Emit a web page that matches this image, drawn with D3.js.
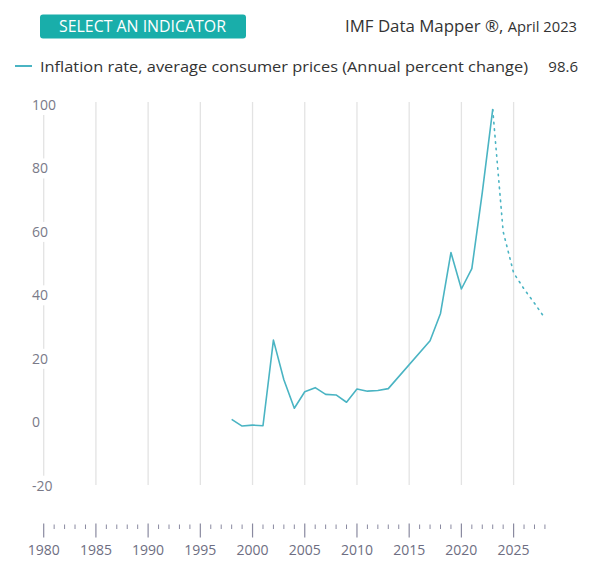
<!DOCTYPE html>
<html lang="en">
<head>
  <meta charset="utf-8">
  <title>IMF Data Mapper - Inflation rate</title>
  <style>
    body { margin: 0; background: #fff; font-family: "Open Sans", Lato, sans-serif; }
    svg { display: block; }
  </style>
</head>
<body>
  <div id="chart"></div>
  <script src="https://d3js.org/d3.v7.min.js"></script>
  <script>
// actual values
const years = [1998, 1999, 2000, 2001, 2002, 2003, 2004, 2005, 2006, 2007, 2008,
               2009, 2010, 2011, 2012, 2013, 2017, 2018, 2019, 2020, 2021, 2022, 2023];
const inflation = [0.9, -1.2, -0.9, -1.1, 25.9, 13.4, 4.4, 9.6, 10.9, 8.8, 8.6,
                   6.3, 10.5, 9.8, 10.0, 10.6, 25.7, 34.3, 53.5, 42.0, 48.4, 72.4, 98.6];
// IMF projections
const projYears = [2023, 2024, 2025, 2026, 2027, 2028];
const projInflation = [98.6, 60.1, 47.1, 42.0, 37.5, 32.8];

const yTicks = [100, 80, 60, 40, 20, 0, -20];
const gridYears = [1980, 1985, 1990, 1995, 2000, 2005, 2010, 2015, 2020, 2025];
const sliderYears = d3.range(1980, 2029);

const teal = "#4ab4c3";

const svg = d3.select("#chart").append("svg")
    .attr("width", 596)
    .attr("height", 576);

// header
svg.append("rect")
    .attr("x", 40).attr("y", 14.5)
    .attr("width", 206).attr("height", 24)
    .attr("rx", 3)
    .attr("fill", "#19aeaa");
svg.append("text")
    .attr("x", 59).attr("y", 31.5)
    .attr("fill", "#fff")
    .style("font-size", "15.5px")
    .attr("textLength", 167)
    .attr("lengthAdjust", "spacingAndGlyphs")
    .text("SELECT AN INDICATOR");

const title = svg.append("text")
    .attr("x", 577).attr("y", 32)
    .attr("text-anchor", "end")
    .attr("fill", "#333")
    .attr("textLength", 232)
    .attr("lengthAdjust", "spacingAndGlyphs");
title.append("tspan").style("font-size", "16px").text("IMF Data Mapper ®, ");
title.append("tspan").style("font-size", "14px").text("April 2023");

// legend
svg.append("line")
    .attr("x1", 15).attr("x2", 32)
    .attr("y1", 66).attr("y2", 66)
    .attr("stroke", teal).attr("stroke-width", 2);
svg.append("text")
    .attr("x", 40).attr("y", 71.5)
    .attr("fill", "#333")
    .style("font-size", "15px")
    .attr("textLength", 488)
    .attr("lengthAdjust", "spacingAndGlyphs")
    .text("Inflation rate, average consumer prices (Annual percent change)");
svg.append("text")
    .attr("x", 578).attr("y", 71.5)
    .attr("text-anchor", "end")
    .attr("fill", "#333")
    .style("font-size", "15px")
    .text("98.6");

// chart scales
const x = d3.scaleLinear().domain([1980, 2025]).range([43.7, 513.6]);
const y = d3.scaleLinear().domain([-20, 100]).range([485.7, 105]);

svg.append("g").selectAll("line")
    .data(gridYears)
    .join("line")
    .attr("x1", d => x(d)).attr("x2", d => x(d))
    .attr("y1", 102).attr("y2", 485)
    .attr("stroke", "#e3e3e3")
    .attr("stroke-width", 1.3);

// y labels sit over the first gridline
const yl = svg.append("g").selectAll("g")
    .data(yTicks)
    .join("g")
    .attr("transform", d => `translate(32,${y(d)})`);
yl.append("rect")
    .attr("x", -1).attr("y", -10)
    .attr("width", d => String(d).length * 8 + 2)
    .attr("height", 20)
    .attr("fill", "#fff");
yl.append("text")
    .attr("dy", "0.36em")
    .attr("fill", "#7a7a88")
    .style("font-size", "14px")
    .text(d => d);

const line = d3.line()
    .x(d => x(d[0]))
    .y(d => y(d[1]));

svg.append("path")
    .datum(d3.zip(years, inflation))
    .attr("d", line)
    .attr("fill", "none")
    .attr("stroke", teal)
    .attr("stroke-width", 1.6)
    .attr("stroke-linejoin", "round");

svg.append("path")
    .datum(d3.zip(projYears, projInflation))
    .attr("d", line)
    .attr("fill", "none")
    .attr("stroke", teal)
    .attr("stroke-width", 1.6)
    .attr("stroke-dasharray", "1.5,5")
    .attr("stroke-linecap", "round");

// time slider axis at bottom, same year scale as the chart
svg.append("g").selectAll("line")
    .data(sliderYears)
    .join("line")
    .attr("x1", d => x(d)).attr("x2", d => x(d))
    .attr("y1", d => d % 5 === 0 ? 523.5 : 524.5)
    .attr("y2", d => d % 5 === 0 ? 537.5 : 529)
    .attr("stroke", "#8a8aa0")
    .attr("stroke-width", d => d % 5 === 0 ? 1.2 : 1);
svg.append("g").selectAll("text")
    .data(sliderYears.filter(d => d % 5 === 0))
    .join("text")
    .attr("x", d => x(d))
    .attr("y", 554.5)
    .attr("text-anchor", "middle")
    .attr("fill", "#6e6e82")
    .style("font-size", "14px")
    .text(d => d);
  </script>
</body>
</html>
